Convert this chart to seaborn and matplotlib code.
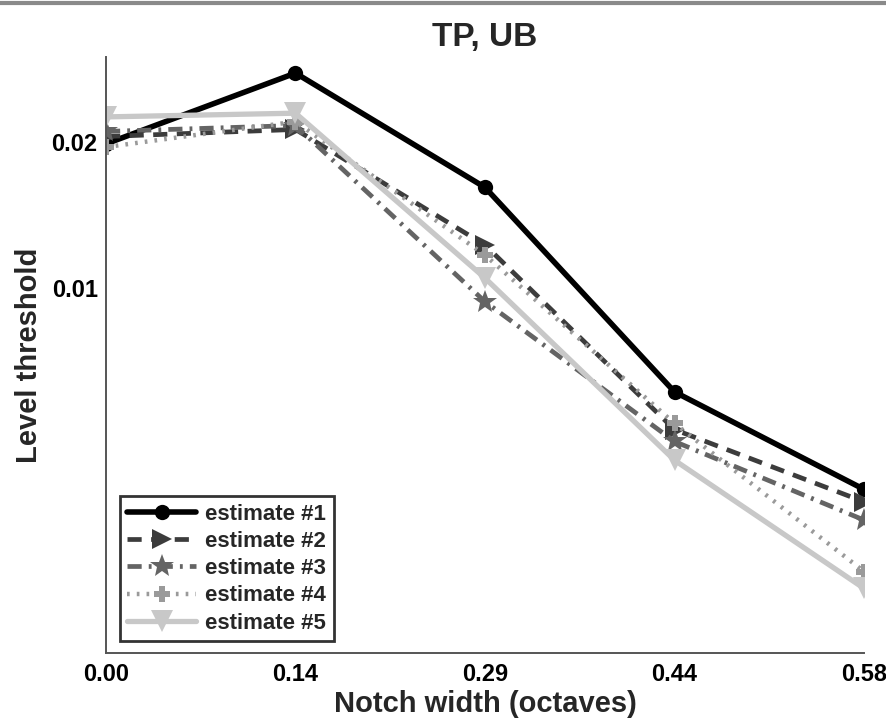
import matplotlib
matplotlib.use("Agg")
import matplotlib.pyplot as plt
import numpy as np
import pandas as pd
import seaborn as sns
from matplotlib.lines import Line2D

# ---- data ----
x_values = [0.0, 0.145, 0.29, 0.435, 0.58]
x_ticklabels = ["0.00", "0.14", "0.29", "0.44", "0.58"]
series_names = ["estimate #1", "estimate #2", "estimate #3", "estimate #4", "estimate #5"]
est1 = [0.0198, 0.0277, 0.0161, 0.0061, 0.00384]
est2 = [0.0205, 0.0212, 0.01225, 0.0051, 0.00362]
est3 = [0.0210, 0.0216, 0.00936, 0.00482, 0.00332]
est4 = [0.0195, 0.0220, 0.01168, 0.00525, 0.0026]
est5 = [0.0225, 0.0229, 0.01047, 0.00441, 0.0024]
y_ticks = [0.01, 0.02]
y_ticklabels = ["0.01", "0.02"]

all_series = [est1, est2, est3, est4, est5]
df = pd.DataFrame({
    "x": np.tile(x_values, len(series_names)),
    "y": np.concatenate(all_series),
    "series": np.repeat(series_names, len(x_values)),
})

# ---- styles ----
colors = {"estimate #1": "#000000", "estimate #2": "#3c3c3c", "estimate #3": "#646464",
          "estimate #4": "#9a9a9a", "estimate #5": "#c8c8c8"}
markers = {"estimate #1": "o", "estimate #2": ">", "estimate #3": "*",
           "estimate #4": "P", "estimate #5": "v"}
dashes = {"estimate #1": "", "estimate #2": (3, 2), "estimate #3": (3, 1.5, 0.6, 1.5),
          "estimate #4": (0.6, 1.6), "estimate #5": ""}
lws = [4.0, 3.4, 3.4, 3.2, 3.8]
msizes = [11, 15, 18, 11, 16]

sns.set_theme(style="white")
plt.rcParams["font.family"] = ["Liberation Sans", "DejaVu Sans"]
plt.rcParams["font.weight"] = "bold"

fig = plt.figure(figsize=(8.87, 7.24), dpi=100)
ax = fig.add_axes([106 / 887, 1 - 653 / 724, (864 - 106) / 887, (653 - 57) / 724])

sns.lineplot(data=df, x="x", y="y", hue="series", style="series",
             palette=colors, markers=markers, dashes=dashes,
             hue_order=series_names, style_order=series_names,
             linewidth=3, markeredgewidth=0, legend=False, ax=ax)

for line, lw, ms in zip(ax.lines[:5], lws, msizes):
    line.set_linewidth(lw)
    line.set_markersize(ms)
    line.set_markeredgewidth(0)
    line.set_dash_capstyle("butt")

ax.set_yscale("log")
ax.set_ylim(0.001766, 0.0299)
ax.set_xlim(0.0, 0.58)
ax.set_xticks(x_values)
ax.set_xticklabels(x_ticklabels)
ax.set_yticks(y_ticks)
ax.set_yticklabels(y_ticklabels)
ax.yaxis.set_minor_locator(matplotlib.ticker.NullLocator())

for s in ["top", "right"]:
    ax.spines[s].set_visible(False)
for s in ["left", "bottom"]:
    ax.spines[s].set_color("#555555")
    ax.spines[s].set_linewidth(1.4)

ax.tick_params(axis="both", direction="in", length=7, width=1.2, color="#333333",
               labelsize=17, labelcolor="black")
ax.tick_params(axis="x", pad=7)
ax.tick_params(axis="y", pad=6)
for lab in ax.get_xticklabels() + ax.get_yticklabels():
    lab.set_fontweight("bold")

ax.set_title("TP, UB", fontsize=24, fontweight="bold", pad=8)
ax.set_xlabel("Notch width (octaves)", fontsize=21, fontweight="bold", labelpad=3)
ax.set_ylabel("Level threshold", fontsize=21, fontweight="bold", labelpad=6)

leg = ax.legend(ax.lines[:5], series_names, loc="lower left",
                bbox_to_anchor=(0.012, 0.012), fontsize=16, handlelength=3.1,
                frameon=True, fancybox=False, borderpad=0.35, labelspacing=0.28,
                handletextpad=0.4, borderaxespad=0.2)
leg.get_frame().set_edgecolor("black")
leg.get_frame().set_linewidth(2)
for t in leg.get_texts():
    t.set_fontweight("bold")

fig.add_artist(Line2D([0, 1], [1 - 2.5 / 724, 1 - 2.5 / 724], transform=fig.transFigure,
                      color="#8a8a8a", linewidth=3))

fig.savefig("out.png", dpi=100, facecolor="white")
